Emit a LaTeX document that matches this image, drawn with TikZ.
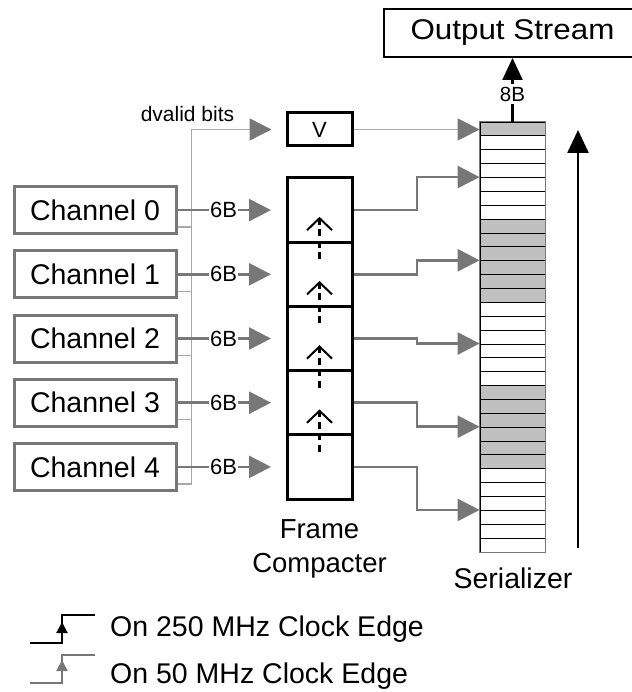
\documentclass[tikz,border=0pt]{standalone}
\usepackage{graphicx}
\usepackage{fontspec}
\setmainfont{Liberation Sans}
\usetikzlibrary{arrows.meta,calc}
\definecolor{dgray}{HTML}{777777}
\definecolor{lgray}{HTML}{A8A8A8}
\definecolor{sfill}{HTML}{C0C0C0}
\newcommand\myfs[1]{\fontsize{#1pt}{#1pt}\selectfont}
\begin{document}
\begin{tikzpicture}[x=1pt,y=-1pt,
  chanbox/.style={draw=dgray, line width=3pt, minimum width=162pt, minimum height=47pt, inner sep=0pt, font=\myfs{28.5}},
  cellbox/.style={draw=black, line width=3pt, minimum width=65pt, minimum height=64.2pt, inner sep=0pt},
  srow/.style={draw=black, line width=0.8pt, minimum width=65pt, minimum height=13.87pt, inner sep=0pt},
  garrow/.style={draw=dgray, line width=2.6pt, -{Triangle[length=22pt,width=22pt]}},
  busline/.style={draw=lgray, line width=1.4pt},
  dashline/.style={draw=black, line width=2.2pt, dash pattern=on 7pt off 4.5pt},
  chevron/.style={draw=black, line width=2pt, line join=miter},
  lab/.style={fill=white, inner sep=1pt, font=\myfs{22}},
  bigtext/.style={font=\myfs{28.5}, anchor=base, inner sep=0pt}
]
\useasboundingbox (0,0) rectangle (631,692);

% Output stream
\node[draw, line width=2pt, minimum width=258pt, minimum height=48pt, inner sep=0pt, font=\myfs{28.5}] (out) at (512.5,33) {\scalebox{1.1}[1]{Output Stream}};

% channels and compacter cells
\foreach \i in {0,...,4}{
  \node[chanbox] (ch\i) at (95,{210.1+64.2*\i}) {Channel \i};
  \node[cellbox] (c\i) at (319.5,{210.1+64.2*\i}) {};
}

% V box
\node[draw, line width=3pt, minimum width=65pt, minimum height=33pt, inner sep=0pt, font=\myfs{22}] (v) at (319.5,129.5) {V};

% serializer rows
\foreach \k in {0,...,30}{
  \def\rf{white}%
  \ifnum\k=0 \def\rf{sfill}\fi
  \ifnum\k>6 \ifnum\k<13 \def\rf{sfill}\fi\fi
  \ifnum\k>18 \ifnum\k<25 \def\rf{sfill}\fi\fi
  \node[srow, fill=\rf] (s\k) at (512.5,{128.935+13.87*\k}) {};
}
\draw[draw=dgray, line width=1.3pt] (s0.north west) rectangle (s30.south east);

% dvalid bus
\node[font=\myfs{21}, anchor=base, inner sep=0pt] (dvl) at (187.5,122) {dvalid bits};
\draw[busline, -{Triangle[length=22pt,width=22pt,color=dgray]}, shorten >=14pt]
  ($(ch4.south east)+(0,-8)$) -- ++(14,0) |- (v.west);
\foreach \i in {0,...,3}
  \draw[busline] ($(ch\i.south east)+(0,-8)$) -- ++(14,0);

% data arrows
\foreach \i in {0,...,4}
  \draw[garrow, shorten >=14.5pt] (ch\i.east) -- node[lab, pos=0.426] {6B} (c\i.west);

% compacter shifts
\foreach \i/\j in {0/1,1/2,2/3,3/4}{
  \draw[dashline] ($(c\j.north)+(0,18.5)$) -- ($(c\i.south)+(0,-25.5)$);
  \draw[chevron] ($(c\i.south)+(-12.5,-13.5)$) -- ($(c\i.south)+(0,-25.5)$) -- ($(c\i.south)+(12.5,-13.5)$);
}

% compacter to serializer
\foreach \i in {0,...,4}{
  \pgfmathtruncatemacro\t{4+6*\i}
  \draw[garrow] (c\i.east) -- ++(63.5,0) |- (s\t.north west);
}

% V to serializer
\draw[draw=lgray, line width=1.5pt, -{Triangle[length=22pt,width=22pt,color=dgray]}] (v.east) -- (v.east -| s0.west);

% 8B output
\draw[line width=2.2pt, -{Triangle[length=22pt,width=20pt]}] (s0.north) -- node[pos=0.43, fill=white, inner sep=2.5pt, font=\myfs{20.5}] {8B} (out.south);

% big arrow
\coordinate (bigb) at (578,548);
\coordinate (bigt) at (578,130);
\draw[line width=2.5pt, -{Triangle[length=23pt,width=21pt]}] (bigb) -- (bigt);

% labels
\node[bigtext, font=\myfs{27.5}] (fr) at (319.5,538) {Frame};
\node[bigtext, font=\myfs{27.5}] (cp) at (319.5,572) {Compacter};
\node[bigtext] (ser) at (513,588) {Serializer};

% legend
\draw[line width=2pt] (30,643) -- (62,643) -- (62,615) -- (95,615);
\draw[line width=2pt, -{Triangle[length=11pt,width=11pt]}] (62,640) -- (62,622);
\draw[draw=dgray, line width=2pt] (30,683) -- (62,683) -- (62,655) -- (95,655);
\draw[draw=dgray, line width=2pt, -{Triangle[length=11pt,width=11pt]}] (62,680) -- (62,660);
\node[bigtext, anchor=base west] (l1) at (110,636) {On 250 MHz Clock Edge};
\node[bigtext, anchor=base west] (l2) at (110,683) {On 50 MHz Clock Edge};
\end{tikzpicture}
\end{document}
